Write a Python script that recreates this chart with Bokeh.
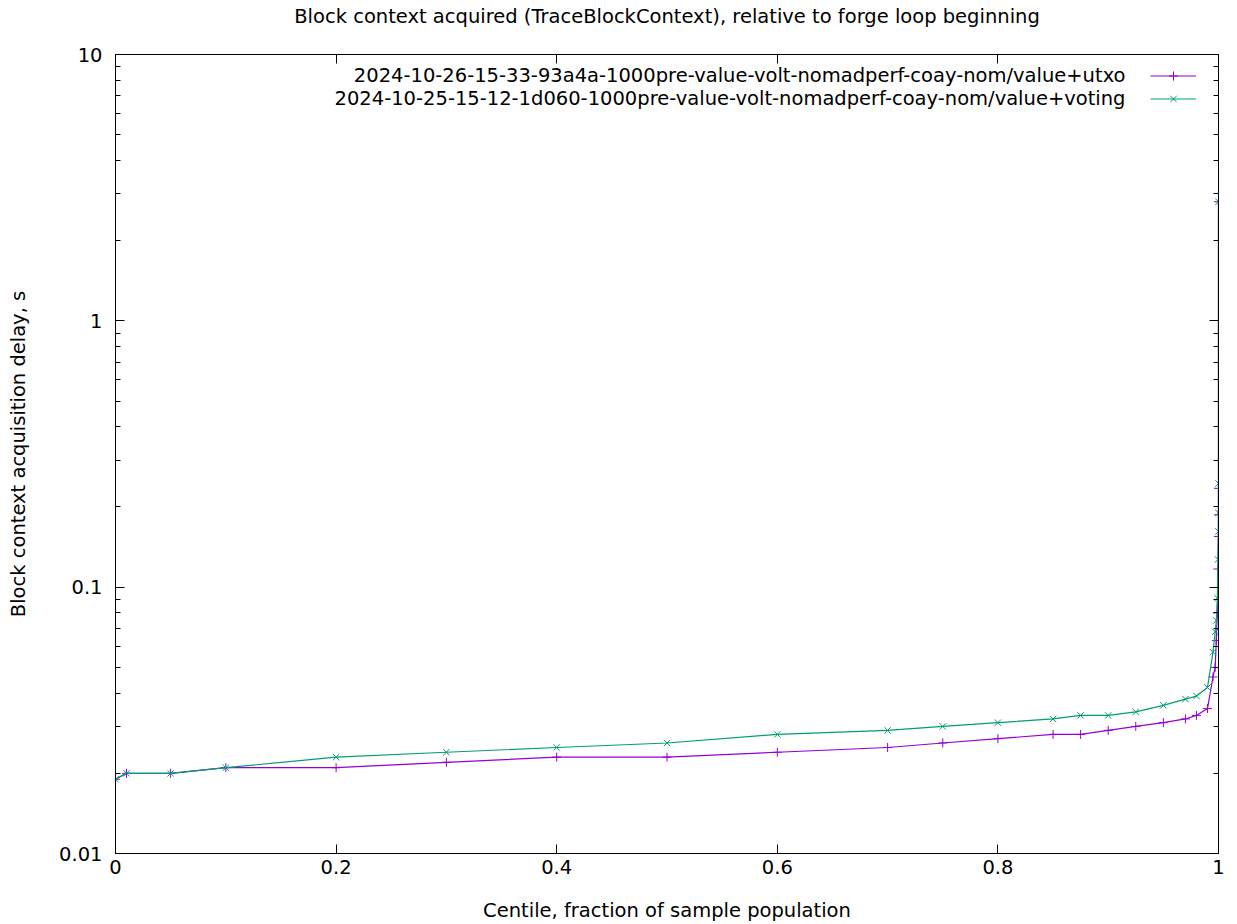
from bokeh.plotting import figure
from bokeh.models import (FixedTicker, LinearAxis, LogAxis, Range1d, Legend, LegendItem,
                          Label, Title)
from bokeh.embed import file_html
from bokeh.resources import INLINE

# ---- data ----
centiles = [0, 0.01, 0.05, 0.1, 0.2, 0.3, 0.4, 0.5, 0.6, 0.7, 0.75, 0.8, 0.85, 0.875,
            0.9, 0.925, 0.95, 0.97, 0.98, 0.99, 0.995, 0.997, 0.998, 0.999, 0.9995,
            0.9999, 0.99995, 0.99999, 1.0]
utxo = [0.019, 0.020, 0.020, 0.021, 0.021, 0.022, 0.023, 0.023, 0.024, 0.025, 0.026,
        0.027, 0.028, 0.028, 0.029, 0.030, 0.031, 0.032, 0.033, 0.035, 0.046, 0.050,
        0.063, 0.080, 0.117, 0.155, 0.187, 0.235, 2.8]
voting = [0.019, 0.020, 0.020, 0.021, 0.023, 0.024, 0.025, 0.026, 0.028, 0.029, 0.030,
          0.031, 0.032, 0.033, 0.033, 0.034, 0.036, 0.038, 0.039, 0.042, 0.057, 0.068,
          0.075, 0.091, 0.127, 0.162, 0.19, 0.245, 2.8]
series_names = ["2024-10-26-15-33-93a4a-1000pre-value-volt-nomadperf-coay-nom/value+utxo",
                "2024-10-25-15-12-1d060-1000pre-value-volt-nomadperf-coay-nom/value+voting"]
x_ticks = [0, 0.2, 0.4, 0.6, 0.8, 1.0]
x_tick_labels = ["0", "0.2", "0.4", "0.6", "0.8", "1"]
y_ticks = [0.01, 0.1, 1, 10]
y_tick_labels = ["0.01", "0.1", "1", "10"]
title_text = "Block context acquired (TraceBlockContext), relative to forge loop beginning"
x_label = "Centile, fraction of sample population"
y_label = "Block context acquisition delay, s"

FONT = "DejaVu Sans"
FS = "19.5px"
PURPLE = "#9400d3"
GREEN = "#009e73"

W, H = 1237, 924
BL, BR, BT, BB = 115, 19, 54, 71
FH = H - BT - BB

p = figure(width=W, height=H, y_axis_type="log", output_backend="svg",
           toolbar_location=None, x_axis_location=None, y_axis_location=None,
           x_range=Range1d(0, 1), y_range=Range1d(0.01, 10),
           min_border_left=BL, min_border_right=BR, min_border_top=BT,
           min_border_bottom=BB)
p.grid.visible = False
p.outline_line_color = "black"
p.outline_line_width = 1
p.background_fill_color = "white"
p.border_fill_color = "white"

p.title = Title(text=title_text, align="center", text_font=FONT, text_font_size=FS,
                text_font_style="normal", text_color="black", standoff=2)

y_minor = [m * 10.0 ** e for e in (-2, -1, 0) for m in range(2, 10)]
xt = FixedTicker(ticks=x_ticks)
yt = FixedTicker(ticks=y_ticks, minor_ticks=y_minor)
x_over = {v: s for v, s in zip(x_ticks, x_tick_labels)}
y_over = {v: s for v, s in zip(y_ticks, y_tick_labels)}
x_blank = {v: " " for v in x_ticks}
y_blank = {v: "" for v in y_ticks}


def style(ax):
    ax.axis_line_color = "black"
    ax.major_tick_in = 9
    ax.major_tick_out = 0
    ax.minor_tick_in = 5
    ax.minor_tick_out = 0
    ax.major_tick_line_color = "black"
    ax.minor_tick_line_color = "black"
    ax.major_label_text_font = FONT
    ax.major_label_text_font_size = FS
    ax.major_label_text_color = "black"
    ax.axis_label_text_font = FONT
    ax.axis_label_text_font_size = FS
    ax.axis_label_text_font_style = "normal"
    ax.axis_label_text_color = "black"


xb = LinearAxis(ticker=xt, axis_label=x_label, major_label_overrides=x_over)
style(xb)
xb.major_label_standoff = 6
xb.axis_label_standoff = 22
xa = LinearAxis(ticker=xt, major_label_overrides=x_blank)
style(xa)
xa.major_label_standoff = 0
yl = LogAxis(ticker=yt, axis_label=y_label, major_label_overrides=y_over)
style(yl)
yl.major_label_standoff = 13
yl.axis_label_standoff = 26
yr = LogAxis(ticker=yt, major_label_overrides=y_blank)
style(yr)
yr.major_label_standoff = 0
p.add_layout(xb, "below")
p.add_layout(xa, "above")
p.add_layout(yl, "left")
p.add_layout(yr, "right")

r1 = p.line(centiles, utxo, line_color=PURPLE, line_width=1.2)
m1 = p.scatter(centiles, utxo, marker="cross", size=9, line_color=PURPLE, line_width=1)
r2 = p.line(centiles, voting, line_color=GREEN, line_width=1.2)
m2 = p.scatter(centiles, voting, marker="x", size=9, line_color=GREEN, line_width=1)

legend = Legend(items=[LegendItem(label="\u00a0", renderers=[r1, m1]),
                       LegendItem(label="\u00a0", renderers=[r2, m2])],
                location=(1035, FH - 56), glyph_width=46, glyph_height=23, spacing=0,
                padding=0, margin=0, label_standoff=0,
                background_fill_alpha=0, border_line_alpha=0,
                label_text_font_size="16px")
p.add_layout(legend, "center")

for i, name in enumerate(series_names):
    p.add_layout(Label(x=1010, y=FH - 21 - 23 * i, x_units="screen", y_units="screen",
                       text=name, text_align="right", text_baseline="middle",
                       text_font=FONT, text_font_size=FS, text_color="black"))

open("out.html", "w").write(file_html(p, INLINE))
